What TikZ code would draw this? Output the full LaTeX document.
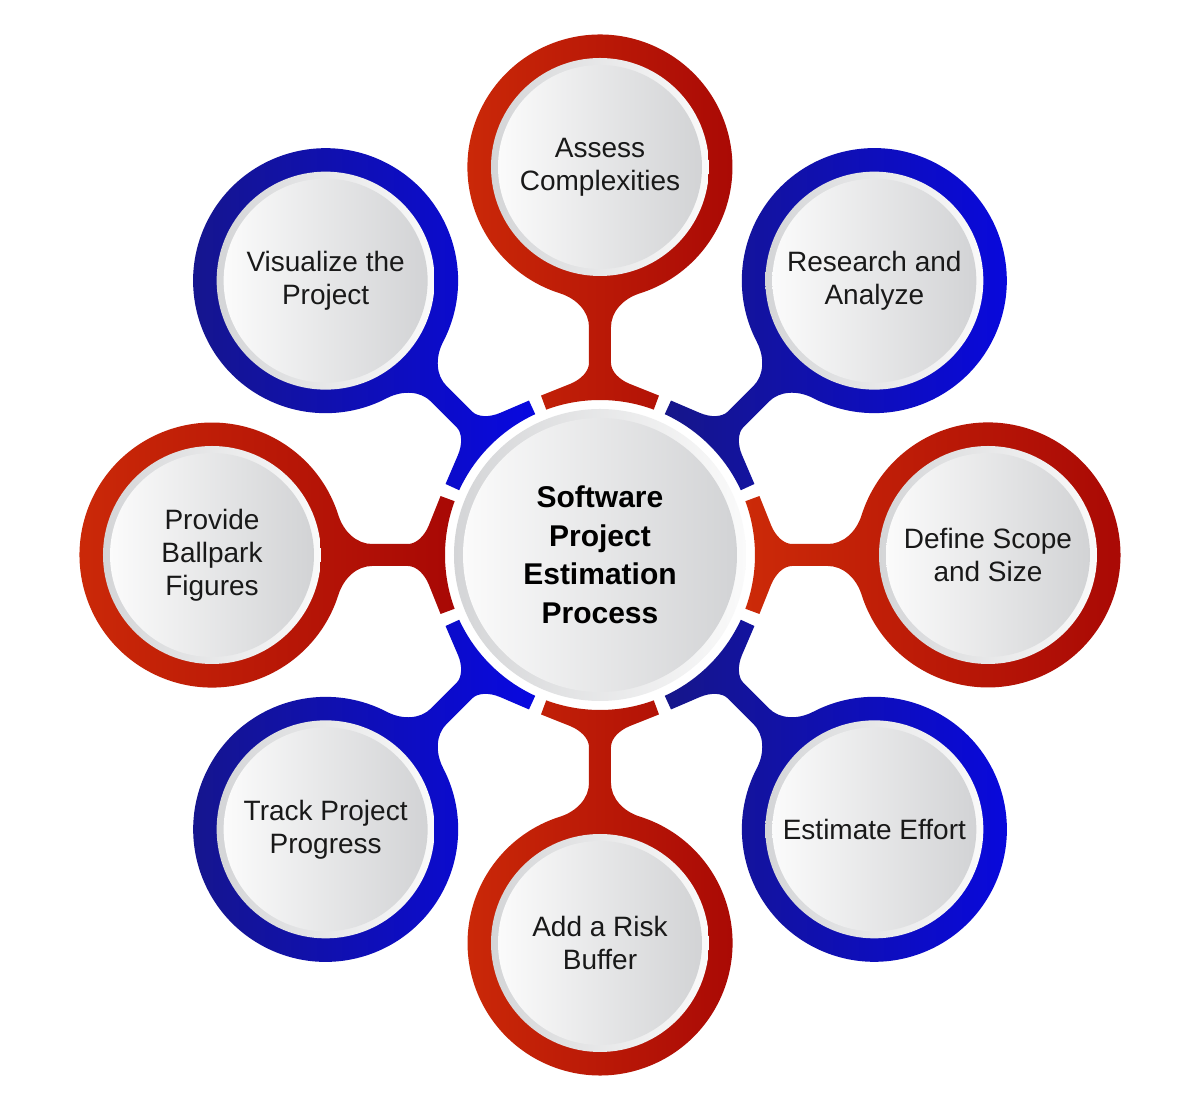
\documentclass[tikz,border=0pt]{standalone}
\usepackage{fontspec}
\setmainfont{Liberation Sans}
\usetikzlibrary{calc}

\definecolor{redL}{HTML}{CC2A08}
\definecolor{redR}{HTML}{A80805}
\definecolor{blueL}{HTML}{16168A}
\definecolor{blueR}{HTML}{0808E0}
\definecolor{bandL}{HTML}{D4D5D7}
\definecolor{bandR}{HTML}{FAFAFA}
\definecolor{discL}{HTML}{FBFBFB}
\definecolor{discR}{HTML}{D2D3D5}

\begin{document}
\begin{tikzpicture}[x=0.5pt,y=0.5pt,
	itemtxt/.style={align=center,font=\fontsize{14}{16.5}\selectfont,text=black!90},
	hubtxt/.style={align=center,font=\fontsize{15}{19.25}\selectfont\bfseries}
]
	\useasboundingbox (-600,-557) rectangle (600,555);
	\fill[white] (-600,-557) rectangle (600,555);
	\def\Dist{388}
	% rings, stems and hub segments
	\foreach \a/\col in {90/red,45/blue,0/red,-45/blue,-90/red,-135/blue,180/red,135/blue}{
		\shade[left color=\col L,right color=\col R]
			(\a-20.3:155) -- (\a-20.3:170)
			-- ($(\a:171)+(\a-90:30)$)
			.. controls ($(\a:175.6)+(\a-90:18.6)$) and ($(\a:184)+(\a-90:11)$) .. ($(\a:192)+(\a-90:11)$)
			-- ($(\a:228)+(\a-90:11)$)
			.. controls ($(\a:242.7)+(\a-90:11)$) and ($(\a:256.2)+(\a-90:22.6)$) .. ($(\a:261.7)+(\a-90:40)$)
			arc[start angle=\a+197.6,end angle=\a+522.4,radius=132.5]
			.. controls ($(\a:256.2)+(\a+90:22.6)$) and ($(\a:242.7)+(\a+90:11)$) .. ($(\a:228)+(\a+90:11)$)
			-- ($(\a:192)+(\a+90:11)$)
			.. controls ($(\a:184)+(\a+90:11)$) and ($(\a:175.6)+(\a+90:18.6)$) .. ($(\a:171)+(\a+90:30)$)
			-- (\a+20.3:170) -- (\a+20.3:155)
			arc[start angle=\a+20.3,end angle=\a-20.3,radius=155] -- cycle;
		\shade[left color=bandL,right color=bandR] (\a:\Dist) circle[radius=109];
		\shade[left color=discL,right color=discR] (\a:\Dist) circle[radius=102];
	}
	% hub
	\shade[left color=bandL,right color=bandR] (0,0) circle[radius=146];
	\shade[left color=discL,right color=discR] (0,0) circle[radius=137];
	\node[hubtxt] (hub) at (0,0) {Software\\Project\\Estimation\\Process};

	\foreach \a/\name/\txt in {
		90/assess/{Assess\\Complexities},
		45/research/{Research and\\Analyze},
		0/scope/{Define Scope\\and Size},
		-45/effort/{Estimate Effort},
		-90/buffer/{Add a Risk\\Buffer},
		-135/track/{Track Project\\Progress},
		180/ballpark/{Provide\\Ballpark\\Figures},
		135/visualize/{Visualize the\\Project}}
		\node[itemtxt] (\name) at (\a:\Dist) {\txt};
\end{tikzpicture}
\end{document}
